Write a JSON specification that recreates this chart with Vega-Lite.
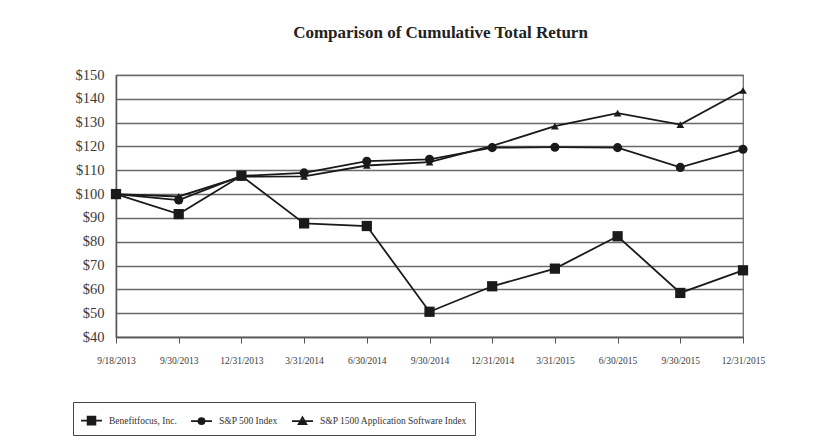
{
  "$schema": "https://vega.github.io/schema/vega-lite/v6.json",
  "autosize": "none",
  "width": 627,
  "height": 262,
  "padding": {"left": 116, "top": 75, "right": 89, "bottom": 104},
  "background": "white",
  "title": {
    "text": "Comparison of Cumulative Total Return",
    "font": "Liberation Serif",
    "fontSize": 17,
    "fontWeight": "bold",
    "color": "#222",
    "offset": 25,
    "dx": 11
  },
  "config": {
    "view": {"stroke": "#666", "strokeWidth": 1.2},
    "axis": {"labelFont": "Liberation Serif", "labelColor": "#3a3a3a", "domainColor": "#555", "tickColor": "#555", "gridColor": "#6a6a6a", "gridWidth": 1.3}
  },
  "data": {
    "values": [
      {"date": "9/18/2013", "series": "Benefitfocus, Inc.", "value": 100},
      {"date": "9/30/2013", "series": "Benefitfocus, Inc.", "value": 91.6},
      {"date": "12/31/2013", "series": "Benefitfocus, Inc.", "value": 107.7},
      {"date": "3/31/2014", "series": "Benefitfocus, Inc.", "value": 87.7},
      {"date": "6/30/2014", "series": "Benefitfocus, Inc.", "value": 86.6},
      {"date": "9/30/2014", "series": "Benefitfocus, Inc.", "value": 50.6},
      {"date": "12/31/2014", "series": "Benefitfocus, Inc.", "value": 61.3},
      {"date": "3/31/2015", "series": "Benefitfocus, Inc.", "value": 68.7},
      {"date": "6/30/2015", "series": "Benefitfocus, Inc.", "value": 82.3},
      {"date": "9/30/2015", "series": "Benefitfocus, Inc.", "value": 58.5},
      {"date": "12/31/2015", "series": "Benefitfocus, Inc.", "value": 68.0},
      {"date": "9/18/2013", "series": "S&P 500 Index", "value": 100},
      {"date": "9/30/2013", "series": "S&P 500 Index", "value": 97.5},
      {"date": "12/31/2013", "series": "S&P 500 Index", "value": 107.6},
      {"date": "3/31/2014", "series": "S&P 500 Index", "value": 108.9},
      {"date": "6/30/2014", "series": "S&P 500 Index", "value": 113.8},
      {"date": "9/30/2014", "series": "S&P 500 Index", "value": 114.6},
      {"date": "12/31/2014", "series": "S&P 500 Index", "value": 119.5},
      {"date": "3/31/2015", "series": "S&P 500 Index", "value": 119.7},
      {"date": "6/30/2015", "series": "S&P 500 Index", "value": 119.5},
      {"date": "9/30/2015", "series": "S&P 500 Index", "value": 111.2},
      {"date": "12/31/2015", "series": "S&P 500 Index", "value": 118.8},
      {"date": "9/18/2013", "series": "S&P 1500 Application Software Index", "value": 100},
      {"date": "9/30/2013", "series": "S&P 1500 Application Software Index", "value": 99.0},
      {"date": "12/31/2013", "series": "S&P 1500 Application Software Index", "value": 107.3},
      {"date": "3/31/2014", "series": "S&P 1500 Application Software Index", "value": 107.4},
      {"date": "6/30/2014", "series": "S&P 1500 Application Software Index", "value": 112.0},
      {"date": "9/30/2014", "series": "S&P 1500 Application Software Index", "value": 113.4},
      {"date": "12/31/2014", "series": "S&P 1500 Application Software Index", "value": 120.2},
      {"date": "3/31/2015", "series": "S&P 1500 Application Software Index", "value": 128.5},
      {"date": "6/30/2015", "series": "S&P 1500 Application Software Index", "value": 134.0},
      {"date": "9/30/2015", "series": "S&P 1500 Application Software Index", "value": 129.2},
      {"date": "12/31/2015", "series": "S&P 1500 Application Software Index", "value": 143.5}
    ]
  },
  "encoding": {
    "x": {
      "field": "date",
      "type": "ordinal",
      "sort": null,
      "scale": {"type": "point", "padding": 0},
      "axis": {"title": null, "labelAngle": 0, "labelFontSize": 9.5, "labelOverlap": false, "tickSize": 6, "labelPadding": 12, "grid": false, "domainWidth": 1.5}
    },
    "y": {
      "field": "value",
      "type": "quantitative",
      "scale": {"domain": [40, 150], "nice": false, "zero": false},
      "axis": {"title": null, "values": [40, 50, 60, 70, 80, 90, 100, 110, 120, 130, 140, 150], "labelExpr": "'$' + datum.value", "labelFontSize": 14.5, "ticks": false, "labelPadding": 12, "domainWidth": 1.5}
    }
  },
  "layer": [
    {
      "mark": {"type": "line", "color": "#1a1a1a", "strokeWidth": 1.8},
      "encoding": {"detail": {"field": "series"}}
    },
    {
      "mark": {"type": "point", "filled": true, "color": "#1a1a1a", "opacity": 1},
      "encoding": {
        "shape": {
          "field": "series",
          "scale": {"domain": ["Benefitfocus, Inc.", "S&P 500 Index", "S&P 1500 Application Software Index"], "range": ["square", "circle", "triangle-up"]},
          "legend": null
        },
        "size": {
          "field": "series",
          "scale": {"domain": ["Benefitfocus, Inc.", "S&P 500 Index", "S&P 1500 Application Software Index"], "range": [105, 60, 80]},
          "legend": null
        }
      }
    },
    {
      "mark": {"type": "point", "filled": false, "color": "#1a1a1a", "opacity": 0, "strokeWidth": 1.6},
      "encoding": {
        "shape": {
          "field": "series",
          "scale": {"domain": ["Benefitfocus, Inc.", "S&P 500 Index", "S&P 1500 Application Software Index"], "range": [
            "M-1,0H1M-0.38,-0.38H0.38V0.38H-0.38ZM-0.38,-0.23H0.38M-0.38,-0.08H0.38M-0.38,0.08H0.38M-0.38,0.23H0.38",
            "M-1,0H1M0.3,0A0.3,0.3 0 1,1 -0.3,0A0.3,0.3 0 1,1 0.3,0ZM-0.25,-0.15H0.25M-0.25,0.15H0.25M0.14,0A0.14,0.14 0 1,1 -0.14,0A0.14,0.14 0 1,1 0.14,0Z",
            "M-1,0H1M0,-0.38L0.38,0.3H-0.38ZM-0.09,-0.22H0.09M-0.19,-0.06H0.19M-0.3,0.15H0.3"
          ]},
          "legend": {
            "title": null,
            "orient": "none",
            "legendX": -43,
            "legendY": 327,
            "direction": "horizontal",
            "strokeColor": "#444",
            "padding": 7,
            "columnPadding": 10,
            "symbolSize": 440,
            "symbolOpacity": 1,
            "symbolStrokeColor": "#1a1a1a",
            "symbolStrokeWidth": 1.6,
            "labelFont": "Liberation Serif",
            "labelFontSize": 9.5,
            "labelColor": "#333",
            "labelLimit": 300,
            "labelOffset": 6
          }
        }
      }
    }
  ],
  "resolve": {"scale": {"shape": "independent"}, "legend": {"shape": "independent"}}
}
